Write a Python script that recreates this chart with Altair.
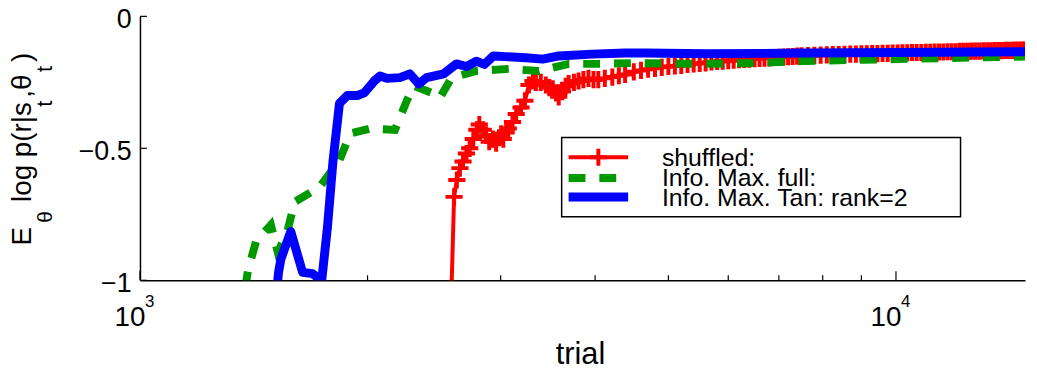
import altair as alt
import pandas as pd

# ---------------- data ----------------
shuffled_trial = [2583, 2603, 2625, 2650, 2675, 2703, 2730, 2760, 2790, 2811, 2845, 2870,
                  2897, 2930, 2959, 2985, 3005, 3024, 3050, 3070, 3110, 3145, 3192, 3230,
                  3270, 3310, 3340, 3390, 3442, 3480, 3516, 3550, 3580, 3620, 3656, 3690,
                  3750, 3803, 3860, 3920, 3980, 4039, 4120, 4215, 4300, 4382,
                  4500, 4600, 4700, 4800, 4900, 5000, 5100, 5200, 5300, 5400, 5500, 5600,
                  5700, 5800, 5900, 6000, 6100, 6200, 6300, 6400, 6500, 6600, 6700, 6800,
                  6900, 7000, 7100, 7200, 7300, 7400, 7500, 7650, 7800, 7950, 8100, 8250,
                  8400, 8550, 8700, 8850, 9000, 9150, 9300, 9450, 9600, 9750, 9900, 10050,
                  10200, 10350, 10500, 10650, 10800, 10950, 11100, 11250, 11400, 11550,
                  11700, 11850, 12000, 12150, 12300, 12450, 12600, 12750, 12900, 13050,
                  13200, 13350, 13500, 13650, 13800, 13950, 14100, 14250, 14400, 14550,
                  14700, 14800]
shuffled_val = [-1.03, -0.684, -0.62, -0.575, -0.55, -0.52, -0.50, -0.465, -0.43, -0.41, -0.43, -0.45,
                -0.475, -0.465, -0.48, -0.46, -0.445, -0.465, -0.44, -0.425, -0.40, -0.37, -0.345, -0.32,
                -0.26, -0.245, -0.25, -0.25, -0.26, -0.27, -0.275, -0.29, -0.305, -0.285, -0.265, -0.255,
                -0.25, -0.245, -0.24, -0.235, -0.24, -0.24, -0.235, -0.23, -0.225, -0.22,
                -0.21, -0.205, -0.20, -0.197, -0.193, -0.19, -0.188, -0.186, -0.182, -0.18, -0.178, -0.176,
                -0.173, -0.171, -0.17, -0.168, -0.166, -0.164, -0.163, -0.162, -0.16, -0.159, -0.158, -0.157,
                -0.156, -0.155, -0.154, -0.153, -0.152, -0.151, -0.15, -0.149, -0.148, -0.147, -0.146, -0.145,
                -0.145, -0.144, -0.143, -0.143, -0.142, -0.142, -0.141, -0.141, -0.14, -0.14, -0.139, -0.139,
                -0.138, -0.138, -0.137, -0.137, -0.137, -0.136, -0.136, -0.135, -0.135, -0.135,
                -0.134, -0.134, -0.134, -0.133, -0.133, -0.133, -0.132, -0.132, -0.132, -0.131,
                -0.131, -0.131, -0.13, -0.13, -0.13, -0.129, -0.129, -0.129, -0.128, -0.128,
                -0.128, -0.128]

full_trial = [1378, 1390, 1424, 1490, 1522, 1568, 1602, 1728, 1836, 1898, 2016, 2174, 2254,
              2302, 2446, 2491, 2583, 2786, 3078, 3370, 3690, 4039, 4476, 5415, 6552, 7551,
              10000, 14815]
full_val = [-1.03, -0.96, -0.853, -0.79, -0.895, -0.81, -0.703, -0.647, -0.545, -0.444, -0.425,
            -0.43, -0.32, -0.263, -0.293, -0.31, -0.233, -0.207, -0.199, -0.207, -0.18, -0.18,
            -0.177, -0.18, -0.177, -0.169, -0.162, -0.152]

tan_trial = [1518, 1525, 1536, 1583, 1641, 1692, 1718, 1735, 1770, 1800, 1836, 1881, 1939, 1980,
             2041, 2078, 2122, 2207, 2275, 2338, 2394, 2521, 2622, 2703, 2786, 2854, 2933, 3240,
             3411, 3580, 3966, 4382, 4656, 5630, 7551, 10000, 14815]
tan_val = [-1.03, -0.97, -0.92, -0.815, -0.97, -0.975, -0.99, -1.03, -0.80, -0.55, -0.33, -0.30,
           -0.30, -0.29, -0.245, -0.226, -0.235, -0.232, -0.218, -0.256, -0.232, -0.218, -0.18,
           -0.19, -0.17, -0.182, -0.15, -0.157, -0.162, -0.15, -0.143, -0.139, -0.139, -0.142,
           -0.139, -0.137, -0.134]

legend_labels = ["shuffled:", "Info. Max. full:", "Info. Max. Tan: rank=2"]
x_major = [1000, 10000]
x_major_exp = ["3", "4"]
x_minor = [2000, 3000, 4000, 5000, 6000, 7000, 8000, 9000]
y_ticks = [-1, -0.5, 0]

RED, GREEN, BLUE = "#ff0000", "#009900", "#0000ff"
FONT = "Liberation Sans"
W, H = 892, 266

xscale = alt.Scale(type="log", domain=[1000, 14815], nice=False)
yscale = alt.Scale(domain=[-1, 0], nice=False, zero=False)
x_axis = alt.Axis(domain=True, domainColor="black", domainWidth=1.5, ticks=False,
                  labels=False, grid=False, title=None)
y_axis = alt.Axis(values=y_ticks, domain=True, domainColor="black", domainWidth=1.5,
                  ticks=False, grid=False, title=None, labelFont=FONT, labelFontSize=27,
                  labelColor="black", labelPadding=9, labelOffset=3,
                  labelExpr="datum.value == 0 ? '0' : (datum.value == -1 ? '\u22121' : '\u22120.5')")


def X(field="trial"):
    return alt.X(f"{field}:Q", scale=xscale, axis=x_axis)


def Y(field="v"):
    return alt.Y(f"{field}:Q", scale=yscale, axis=y_axis)


df_red = pd.DataFrame({"trial": shuffled_trial, "v": shuffled_val})
df_green = pd.DataFrame({"trial": full_trial, "v": full_val})
df_blue = pd.DataFrame({"trial": tan_trial, "v": tan_val})

PLUS = "M-1,0L1,0M0,-1L0,1"

red_line = alt.Chart(df_red).mark_line(color=RED, strokeWidth=4, clip=True,
                                       strokeJoin="round").encode(x=X(), y=Y())
red_pts = alt.Chart(df_red).mark_point(shape=PLUS, filled=False, stroke=RED, strokeWidth=4,
                                       size=300, opacity=1, clip=True).encode(x=X(), y=Y())
green_line = alt.Chart(df_green).mark_line(color=GREEN, strokeWidth=8, strokeDash=[17, 14],
                                           clip=True).encode(x=X(), y=Y())
blue_line = alt.Chart(df_blue).mark_line(color=BLUE, strokeWidth=9, clip=True,
                                         strokeJoin="round").encode(x=X(), y=Y())

# inward ticks
df_ymaj = pd.DataFrame({"v": y_ticks})
y_tick_layer = alt.Chart(df_ymaj).mark_rule(color="black", strokeWidth=1.2).encode(
    y=Y(), x=alt.value(0), x2=alt.value(7))
df_xmaj = pd.DataFrame({"trial": x_major, "exp": x_major_exp, "base": ["10", "10"]})
df_xmin = pd.DataFrame({"trial": x_minor})
x_major_layer = alt.Chart(df_xmaj).mark_rule(color="black", strokeWidth=1.2).encode(
    x=X(), y=alt.value(H), y2=alt.value(H - 9))
x_minor_layer = alt.Chart(df_xmin).mark_rule(color="black", strokeWidth=1.2).encode(
    x=X(), y=alt.value(H), y2=alt.value(H - 5))

# x tick labels 10^3, 10^4
x_base_txt = alt.Chart(df_xmaj).mark_text(font=FONT, fontSize=28, color="black", align="center",
                                          baseline="alphabetic", dx=-10).encode(
    x=X(), y=alt.value(312), text="base:N")
x_exp_txt = alt.Chart(df_xmaj).mark_text(font=FONT, fontSize=17, color="black", align="left",
                                         baseline="alphabetic", dx=5).encode(
    x=X(), y=alt.value(293), text="exp:N")

one = pd.DataFrame({"a": [0]})


def txt(s, x, y, size, angle=0, align="left"):
    return alt.Chart(one).mark_text(text=s, font=FONT, fontSize=size, color="black",
                                    align=align, baseline="alphabetic", angle=angle).encode(
        x=alt.value(x), y=alt.value(y))


# axis titles
x_title = txt("trial", 444, 350, 31, align="center")
ytitle_parts = [
    txt("E", -110, 231, 28, 270),
    txt("\u03b8", -89, 208, 21, 270),
    txt("log p(r|s", -110, 187, 28, 270),
    txt("t", -89, 91, 22, 270),
    txt(",\u03b8", -110, 82, 28, 270),
    txt("t", -89, 56, 22, 270),
    txt(")", -110, 46, 28, 270),
]

# legend
lx0, lx1, ly0, ly1 = 425, 827, 122, 202
legend_box = alt.Chart(one).mark_rect(fill="white", stroke="black", strokeWidth=1.5).encode(
    x=alt.value(lx0), x2=alt.value(lx1), y=alt.value(ly0), y2=alt.value(ly1))
sx0, sx1 = 432, 492
leg_red = alt.Chart(one).mark_rule(color=RED, strokeWidth=4).encode(
    x=alt.value(sx0), x2=alt.value(sx1), y=alt.value(142))
leg_red_pt = alt.Chart(one).mark_point(shape=PLUS, filled=False, stroke=RED, strokeWidth=4,
                                       size=300, opacity=1).encode(
    x=alt.value((sx0 + sx1) / 2), y=alt.value(142))
leg_green = alt.Chart(one).mark_rule(color=GREEN, strokeWidth=8, strokeDash=[17, 14]).encode(
    x=alt.value(sx0), x2=alt.value(sx1), y=alt.value(163))
leg_blue = alt.Chart(one).mark_rule(color=BLUE, strokeWidth=9).encode(
    x=alt.value(sx0), x2=alt.value(sx1), y=alt.value(182))
leg_txt = [txt(legend_labels[i], 526, yy, 25) for i, yy in enumerate([151, 171, 191])]

chart = alt.layer(
    red_line, red_pts, green_line, blue_line,
    y_tick_layer, x_major_layer, x_minor_layer,
    x_base_txt, x_exp_txt, x_title, *ytitle_parts,
    legend_box, leg_red, leg_red_pt, leg_green, leg_blue, *leg_txt,
).properties(
    width=W, height=H,
    padding={"left": 133, "top": 7, "right": 4, "bottom": 90},
    autosize=alt.AutoSizeParams(type="none"),
    background="white",
).configure_view(strokeWidth=0)

chart.save("out.html", embed_options={"renderer": "svg", "actions": False})
